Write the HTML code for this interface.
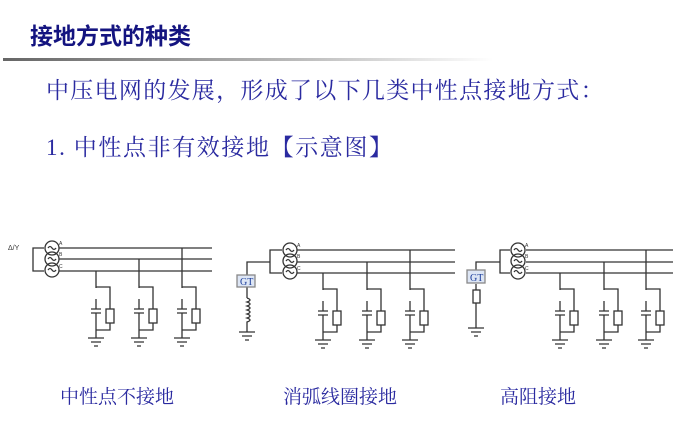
<!DOCTYPE html>
<html><head><meta charset="utf-8"><style>
body{margin:0;width:680px;height:438px;background:#fff;overflow:hidden;position:relative;font-family:"Liberation Serif","Noto Serif CJK SC",serif}
.t{position:absolute;white-space:nowrap}
</style></head><body>
<div class="t" style="left:30px;top:17px;font:bold 23px 'Liberation Sans','Noto Sans CJK SC',sans-serif;color:#141480">接地方式的种类</div>
<div style="position:absolute;left:3px;top:58px;width:490px;height:3px;background:linear-gradient(to right,#666,#bbb 60%,#fff)"></div>
<div class="t" style="left:46px;top:72px;font-size:23px;letter-spacing:1.3px;color:#2a2aa0">中压电网的发展，形成了以下几类中性点接地方式：</div>
<div class="t" style="left:46px;top:129px;font-size:23px;letter-spacing:1.6px;color:#2a2aa0">1. 中性点非有效接地【示意图】</div>
<div class="t" style="left:60px;top:382px;font-size:19px;color:#2a2aa0">中性点不接地</div>
<div class="t" style="left:283px;top:382px;font-size:19px;color:#2a2aa0">消弧线圈接地</div>
<div class="t" style="left:500px;top:382px;font-size:19px;color:#2a2aa0">高阻接地</div>
<svg width="680" height="438" style="position:absolute;left:0;top:0" fill="none" stroke="#333" stroke-width="1.3">
<defs>
<g id="br">
<path d="M0 0V10M0 14V31M0 -12H14V10M14 24V31H0M-5 10H5M-5 14H5M0 31V39M-8 39H8M-5 43H5M-2 47H2"/>
<rect x="10" y="10" width="8" height="14"/>
</g>
<g id="gnd"><path d="M-8 0H8M-5 4H5M-2 8H2"/></g>
<g id="tx">
<circle cx="0" cy="0" r="7"/><circle cx="0" cy="11" r="7"/><circle cx="0" cy="22" r="7"/>
<path d="M-4 0q2-3 4 0t4 0M-4 11q2-3 4 0t4 0M-4 22q2-3 4 0t4 0"/>
</g>
</defs>
<text x="8" y="250" font-size="7" fill="#333" stroke="none" font-family="Liberation Sans">Δ/Y</text>
<path d="M44 248H33V271H44M59 248H212M59 259H212M59 271H212M96 271V288M139 259V288M182 248V288"/>
<use href="#tx" x="52" y="248"/>
<use href="#br" x="96" y="299"/><use href="#br" x="139" y="299"/><use href="#br" x="182" y="299"/>
<path d="M282 250H270V273H282M297 250H455M297 262H455M297 273H455M323 273V290M367 262V290M410 250V290"/>
<path d="M247 275V262H270M247 287V298"/>
<path d="M247 298q6 2 0 4q6 2 0 4q6 2 0 4q6 2 0 4q6 2 0 4q6 2 0 4V332"/>
<use href="#gnd" x="247" y="332"/>
<rect x="237" y="275" width="18" height="12" fill="#dde6f5" stroke="#888"/>
<text x="240" y="285" font-size="10" fill="#1a3c9a" stroke="none" font-family="Liberation Serif">GT</text>
<use href="#tx" x="290" y="250"/>
<use href="#br" x="323" y="301"/><use href="#br" x="367" y="301"/><use href="#br" x="410" y="301"/>
<path d="M510 250H500V273H510M526 250H673M526 262H673M526 273H673M560 273V290M604 262V290M646 250V290"/>
<path d="M476 270V262H500M476 284V290M476 303V328"/>
<rect x="473" y="290" width="7" height="13"/>
<use href="#gnd" x="476" y="328"/>
<rect x="467" y="270" width="18" height="13" fill="#dde6f5" stroke="#888"/>
<text x="470" y="281" font-size="10" fill="#1a3c9a" stroke="none" font-family="Liberation Serif">GT</text>
<use href="#tx" x="518" y="250"/>
<use href="#br" x="560" y="301"/><use href="#br" x="604" y="301"/><use href="#br" x="646" y="301"/>
<g font-size="5" fill="#333" stroke="none" font-family="Liberation Sans">
<text x="59" y="245">A</text><text x="59" y="256">B</text><text x="59" y="268">C</text>
<text x="297" y="247">A</text><text x="297" y="258">B</text><text x="297" y="270">C</text>
<text x="525" y="247">A</text><text x="525" y="258">B</text><text x="525" y="270">C</text>
</g>
</svg>
</body></html>
